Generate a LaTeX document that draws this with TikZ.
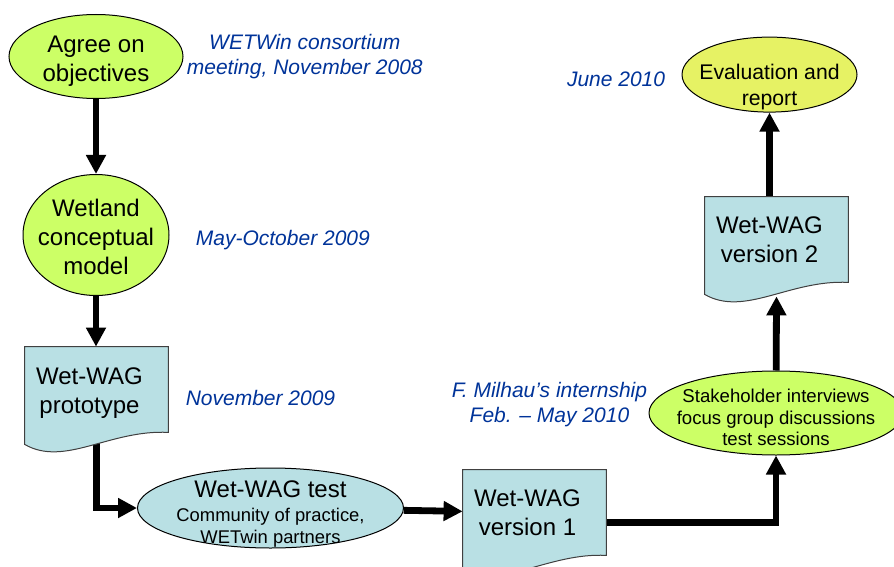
\documentclass[tikz,border=0pt]{standalone}
\usepackage{fontspec}
\setmainfont{Liberation Sans}
\usepackage{tikz}
\usetikzlibrary{shapes.geometric, arrows.meta, positioning, calc, backgrounds}
\definecolor{ideaColor}{RGB}{204,255,102}
\definecolor{docColor}{RGB}{185,224,228}
\definecolor{evalColor}{RGB}{230,242,100}
\definecolor{dateColor}{RGB}{0,51,153}
\newcommand{\subtext}{\fontsize{9.2}{11}\selectfont}
% outline of a document shape round a docbox node
\newcommand{\docframe}[1]{%
  \draw[docline] (#1.north west) -- ($(#1.north east)+(14,0)$) -- ($(#1.south east)+(14,0)$)
    .. controls ($(#1.south west)+(85,-3)$) and ($(#1.south west)+(40,35)$) .. ($(#1.south west)+(0,12)$) -- cycle;}

\begin{document}
\begin{tikzpicture}[
        x=0.5pt, y=-0.5pt,
        stepellipse/.style={ellipse, draw, line width=0.5pt, fill=ideaColor, inner sep=0pt},
        docbox/.style={rectangle, minimum width=64.5pt, minimum height=42.5pt, inner sep=0pt},
        steptext/.style={inner sep=0pt, align=center, font=\fontsize{12}{14.5}\selectfont},
        docline/.style={draw=black!75, line width=0.5pt, fill=docColor},
        datelabel/.style={inner sep=0pt, align=center, text=dateColor, font=\fontsize{10.5}{12.5}\selectfont\itshape},
        arrow/.style={-{Triangle[length=9.5pt, width=9.5pt]}, line width=3.4pt}
    ]
        \useasboundingbox (0,0) rectangle (894,567);
        \clip (0,0) rectangle (894,567);

        % Left column
        \node[stepellipse, minimum width=87pt, minimum height=42pt,
            label={[steptext, yshift=-2.25pt]center:Agree on\\objectives}] (agree) at (96,56.5) {};
        \node[stepellipse, minimum width=73pt, minimum height=60.5pt, below=37.5pt of agree,
            label={[steptext, yshift=-1pt]center:Wetland\\conceptual\\model}] (wetland) {};
        \node[docbox, label={[steptext, yshift=-2pt]center:Wet-WAG\\prototype}] (proto) at (89.5,389.5) {};

        % Bottom row
        \node[stepellipse, fill=docColor, minimum width=133pt, minimum height=40pt,
            label={[steptext, yshift=-3pt]center:Wet-WAG test\\[-2.75pt]\subtext Community of practice,\\[-3.5pt]\subtext WETwin partners}] (test) at (270.5,508) {};
        \node[docbox, label={[steptext]center:Wet-WAG\\version 1}] (v1) at (527.5,512.5) {};

        % Right column
        \node[stepellipse, minimum width=127pt, minimum height=42pt,
            label={[steptext, yshift=-2.25pt, font=\fontsize{9.3}{10.75}\selectfont]center:Stakeholder interviews\\focus group discussions\\test sessions}] (stake) at (776,413) {};
        \node[docbox, label={[steptext]center:Wet-WAG\\version 2}] (v2) at (769.5,239.5) {};
        \node[stepellipse, fill=evalColor, minimum width=87.5pt, minimum height=37.5pt, above=42pt of v2,
            label={[steptext, yshift=-6.25pt, font=\fontsize{10.6}{13}\selectfont]center:Evaluation and\\report}] (eval) {};

        % Dates
        \node[datelabel, right=1.5pt of agree] (meeting) {WETWin consortium\\meeting, November 2008};
        \node[datelabel, right=13pt of wetland, yshift=-2.5pt] (mayoct) {May-October 2009};
        \node[datelabel, right=15.5pt of proto, yshift=-4pt] (nov09) {November 2009};
        \node[datelabel, left=0.5pt of stake, yshift=4pt] (milhau) {F. Milhau’s internship\\Feb. – May 2010};
        \node[datelabel, left=8pt of eval, yshift=-2.5pt] (june) {June 2010};

        \begin{scope}[on background layer]
            \draw[arrow] (agree) -- (wetland);
            \draw[arrow] (wetland.south) -- (wetland.south |- proto.north);
            \draw[arrow] ($(proto.south)+(7,0)$) |- (test.west);
            \draw[arrow] (test) -- (v1);
            \draw[arrow] ($(v1.east)+(14,10)$) -| (stake);
            \draw[arrow] (stake) -- ($(v2.south)+(7,14)$);
            \draw[arrow] (v2.north) -- (eval.south);
            \docframe{proto}
            \docframe{v1}
            \docframe{v2}
        \end{scope}
    \end{tikzpicture}
\end{document}
